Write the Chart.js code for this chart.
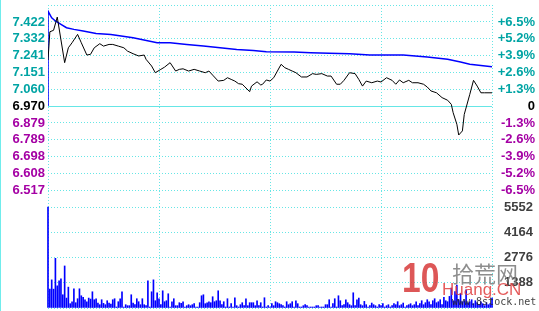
<html>
<script src="https://cdn.jsdelivr.net/npm/chart.js@4.4.0/dist/chart.umd.min.js"></script>

<style>
  body {
    margin: 0;
    width: 539px;
    height: 311px;
    background: white;
    overflow: hidden;
    position: relative;
  }
  #edge { position: absolute; left: 0; top: 0; width: 1px; height: 311px; background: #70ecec; }
  canvas { position: absolute; left: 0; }
  #PriceChart { top: 0; }
  #VolumeChart { top: 200px; }
  .wm { position: absolute; white-space: nowrap; opacity: 0.85; }
</style>

<body>
  <div id="edge"></div>
  <canvas id="PriceChart" width="539" height="212"></canvas>
  <canvas id="VolumeChart" width="539" height="111"></canvas>

  <div class="wm" style="left:402px; top:254px; font:bold 42px 'Liberation Sans'; color:#d83a3a; transform:scaleX(0.8); transform-origin:left;">10</div>
  <div class="wm" style="left:452px; top:256px; font:22px 'Noto Sans CJK SC'; color:#7a7a7a;">拾荒网</div>
  <div class="wm" style="left:442px; top:280px; font:17px 'Liberation Sans'; color:#e04040;">Huang.CN</div>
  <div class="wm" style="left:452px; top:296px; font:10px 'DejaVu Sans Mono'; color:#222;">www.8stock.net</div>
</body>

<script>
  // previous close and the price axis range (+/-7.8%)
  var preClose = 6.970;
  var priceTop = 7.513;
  var priceBottom = 6.427;

  var priceLabels = ['7.422', '7.332', '7.241', '7.151', '7.060', '6.970', '6.879', '6.789', '6.698', '6.608', '6.517'];
  var pctLabels = ['+6.5%', '+5.2%', '+3.9%', '+2.6%', '+1.3%', '0', '-1.3%', '-2.6%', '-3.9%', '-5.2%', '-6.5%'];

  // minute of the session (0..240) and price
  var priceMinutes = [0, 1, 3, 5, 9, 11, 13, 16, 18, 21, 23, 25, 28, 30, 33, 35, 38, 41, 43, 46,
    49, 52, 53, 56, 58, 61, 63, 66, 69, 71, 73, 76, 79, 82, 85, 87, 89, 92, 95, 97,
    99, 101, 103, 105, 106, 109, 110, 113, 115, 116, 118, 120, 122, 124, 126, 128, 130, 132, 134, 137,
    140, 143, 145, 148, 151, 153, 156, 158, 160, 163, 166, 168, 170, 172, 175, 178, 180, 183, 186, 188,
    190, 192, 195, 197, 200, 203, 205, 207, 210, 213, 216, 218, 219, 221, 222, 224, 225, 228, 230, 232,
    234, 236, 240];
  var prices = [7.217, 7.369, 7.377, 7.448, 7.203, 7.283, 7.310, 7.355, 7.310, 7.244, 7.248, 7.283, 7.305, 7.292, 7.301, 7.301, 7.292, 7.283, 7.265, 7.251,
    7.239, 7.244, 7.221, 7.185, 7.149, 7.167, 7.179, 7.203, 7.158, 7.167, 7.170, 7.158, 7.167, 7.158, 7.149, 7.158, 7.136, 7.104, 7.108, 7.122,
    7.113, 7.104, 7.090, 7.087, 7.077, 7.047, 7.077, 7.100, 7.083, 7.087, 7.110, 7.104, 7.122, 7.158, 7.194, 7.176, 7.167, 7.158, 7.149, 7.126,
    7.126, 7.144, 7.140, 7.144, 7.131, 7.131, 7.087, 7.087, 7.108, 7.149, 7.144, 7.113, 7.077, 7.104, 7.095, 7.104, 7.099, 7.122, 7.108, 7.087,
    7.110, 7.095, 7.108, 7.095, 7.095, 7.087, 7.072, 7.051, 7.041, 7.015, 7.001, 6.979, 6.934, 6.872, 6.814, 6.836, 6.925, 7.033, 7.108, 7.077,
    7.041, 7.041, 7.041];

  var avgMinutes = [0, 0, 2, 4, 7, 10, 14, 19, 26, 34, 46, 59, 66, 75, 84, 93, 102, 111, 118, 133,
    142, 152, 163, 174, 192, 205, 216, 223, 228, 240];
  var avgPrices = [6.970, 7.480, 7.444, 7.427, 7.409, 7.391, 7.382, 7.373, 7.360, 7.355, 7.337, 7.310, 7.310, 7.301, 7.292, 7.283, 7.274, 7.269, 7.262, 7.260,
    7.256, 7.253, 7.251, 7.244, 7.244, 7.233, 7.221, 7.206, 7.194, 7.181];

  // one bar per minute, 241 values
  var volumes = [5552, 1037, 1547, 1037, 2730, 1219, 1492, 1602, 728, 2311, 546, 1147, 237, 346, 1056, 291, 510, 1056, 673, 582,
    455, 346, 546, 491, 892, 455, 510, 273, 182, 455, 255, 182, 400, 273, 218, 455, 510, 55, 346, 510,
    892, 55, 182, 127, 127, 728, 273, 182, 510, 346, 182, 510, 182, 127, 1492, 55, 892, 1547, 400, 837,
    510, 182, 946, 346, 400, 783, 55, 346, 510, 127, 127, 291, 255,
    346, 55, 127, 182, 127, 182, 237, 55, 55, 291, 673, 728, 237, 291, 346, 291, 619, 346, 400, 946,
    400, 182, 346, 55, 510, 55, 237, 55, 564, 127, 55, 182, 291, 127, 510, 127, 291, 291, 291, 127,
    400, 127, 291, 55, 564, 55, 127, 55, 237, 127, 346, 291, 237, 182, 127, 55, 346, 182, 237, 346,
    55, 400, 237, 55, 55, 127, 182, 127, 55, 55, 55, 55, 127, 127, 55, 55, 55, 182, 182, 455,
    55, 237, 510, 55, 673, 400, 127, 182, 455, 291, 182, 127, 837, 127, 455,
    546, 182, 127, 364, 182, 55, 127, 273, 182, 127, 55, 182, 127, 237, 55, 127, 182, 55, 127, 237,
    182, 346, 127, 182, 273, 55, 127, 182, 237, 127, 182, 346, 127, 237, 400, 182, 291, 455, 346, 182,
    400, 510, 291, 346, 455, 182, 582, 400, 346, 637, 1100, 400, 900, 1265, 455, 800, 346, 400, 1000, 291,
    346, 455, 237, 400, 291, 182, 346, 237, 127, 291, 182, 237, 546];
  var volumeTicks = [5552, 4164, 2776, 1388, 0];
  var volumeMax = 5552;

  var gridColor = '#66e6e6';
  var upColor = '#00a4a4';
  var downColor = '#a400a4';
  var labelFont = { family: 'Liberation Sans', size: 13, weight: 'bold' };

  function labelColor(i) {
    if (i < 5) return upColor;
    if (i == 5) return 'black';
    return downColor;
  }

  var priceTickValues = [priceTop].concat(priceLabels.map(function (s) { return parseFloat(s); })).concat([priceBottom]);

  function makePoints(xs, ys) {
    return xs.map(function (x, i) { return { x: x, y: ys[i] }; });
  }

  // solid line at previous close, under the price lines
  var preCloseLine = {
    id: 'preCloseLine',
    beforeDatasetsDraw: function (chart) {
      var y = Math.round(chart.scales.y.getPixelForValue(preClose)) + 0.5;
      var ctx = chart.ctx;
      ctx.save();
      ctx.strokeStyle = gridColor;
      ctx.lineWidth = 1;
      ctx.beginPath();
      ctx.moveTo(chart.chartArea.left, y);
      ctx.lineTo(chart.chartArea.right, y);
      ctx.stroke();
      ctx.restore();
    }
  };

  var xAxis = {
    type: 'linear',
    min: 0,
    max: 240,
    afterBuildTicks: function (s) { s.ticks = [0, 60, 120, 180, 240].map(function (v) { return { value: v }; }); },
    afterFit: function (s) { s.height = 0; s.paddingLeft = 0; s.paddingRight = 0; },
    ticks: { display: false },
    grid: { color: gridColor, drawTicks: false },
    border: { display: false, dash: [1, 2] }
  };

  var priceChart = new Chart(document.getElementById('PriceChart'), {
    type: 'line',
    data: {
      datasets: [
        {
          label: 'Price',
          data: makePoints(priceMinutes, prices),
          borderColor: 'black',
          borderWidth: 1,
          pointRadius: 0,
          tension: 0
        },
        {
          label: 'Average',
          data: makePoints(avgMinutes, avgPrices),
          borderColor: '#0000ff',
          borderWidth: 1.5,
          pointRadius: 0,
          tension: 0
        }
      ]
    },
    options: {
      responsive: false,
      animation: false,
      layout: { padding: { top: 5, bottom: 5, left: 0, right: 4 } },
      plugins: { legend: { display: false }, tooltip: { enabled: false } },
      scales: {
        x: xAxis,
        y: {
          position: 'left',
          min: priceBottom,
          max: priceTop,
          afterBuildTicks: function (s) { s.ticks = priceTickValues.map(function (v) { return { value: v }; }); },
          afterFit: function (s) { s.width = 48; s.paddingTop = 0; s.paddingBottom = 0; },
          ticks: {
            autoSkip: false,
            padding: 3,
            font: labelFont,
            color: function (c) { return labelColor(c.index - 1); },
            callback: function (v, i) { return (i == 0 || i == priceTickValues.length - 1) ? '' : priceLabels[i - 1]; }
          },
          grid: {
            drawTicks: false,
            color: function (c) { return (c.tick && c.tick.value == preClose) ? 'rgba(0,0,0,0)' : gridColor; }
          },
          border: { display: false, dash: [1, 2] }
        },
        yR: {
          position: 'right',
          min: priceBottom,
          max: priceTop,
          afterBuildTicks: function (s) { s.ticks = priceTickValues.map(function (v) { return { value: v }; }); },
          afterFit: function (s) { s.width = 43; s.paddingTop = 0; s.paddingBottom = 0; },
          ticks: {
            autoSkip: false,
            padding: 3,
            crossAlign: 'far',
            font: labelFont,
            color: function (c) { return labelColor(c.index - 1); },
            callback: function (v, i) { return (i == 0 || i == priceTickValues.length - 1) ? '' : pctLabels[i - 1]; }
          },
          grid: { display: false, drawTicks: false },
          border: { display: false }
        }
      }
    },
    plugins: [preCloseLine]
  });

  var volumeChart = new Chart(document.getElementById('VolumeChart'), {
    type: 'bar',
    data: {
      labels: volumes.map(function (v, i) { return i; }),
      datasets: [
        {
          label: 'Volume',
          data: volumes,
          backgroundColor: '#0000ff',
          barThickness: 1,
          clip: false
        }
      ]
    },
    options: {
      responsive: false,
      animation: false,
      layout: { padding: { top: 7, bottom: 3, left: 48, right: 6 } },
      plugins: { legend: { display: false }, tooltip: { enabled: false } },
      scales: {
        x: {
          type: 'category',
          offset: false,
          afterFit: function (s) { s.height = 0; s.paddingLeft = 0; s.paddingRight = 0; },
          ticks: { display: false, autoSkip: false },
          grid: {
            offset: false,
            drawTicks: false,
            color: function (c) { return (c.index % 60 == 0) ? gridColor : 'rgba(0,0,0,0)'; }
          },
          border: { display: false, dash: [1, 2] }
        },
        y: {
          position: 'right',
          min: 0,
          max: volumeMax,
          afterBuildTicks: function (s) { s.ticks = volumeTicks.map(function (v) { return { value: v }; }); },
          afterFit: function (s) { s.width = 41; s.paddingTop = 0; s.paddingBottom = 0; },
          ticks: {
            autoSkip: false,
            padding: 3,
            crossAlign: 'far',
            font: labelFont,
            color: '#404040',
            callback: function (v) { return v == 0 ? '' : String(v); }
          },
          grid: { color: gridColor, drawTicks: false },
          border: { display: false, dash: [1, 2] }
        }
      }
    }
  });
</script>

</html>
